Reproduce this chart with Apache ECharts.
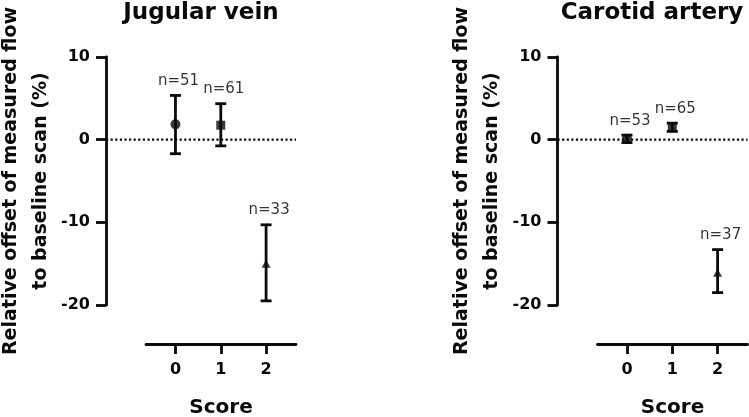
<!DOCTYPE html>
<html>
<head>
<meta charset="utf-8">
<script src="https://cdn.jsdelivr.net/npm/echarts@6/dist/echarts.min.js"></script>
<style>
html,body{margin:0;padding:0;background:#fff;}
#chart{width:749px;height:417px;}
</style>
</head>
<body>
<div id="chart"></div>
<script>
// ---- data ----
const scores = [0, 1, 2];
const scoreLabels = ['0', '1', '2'];
const yTicks = [-20, -10, 0, 10];
const markerShapes = ['circle', 'rect', 'triangle'];

const panelTitles = ['Jugular vein', 'Carotid artery'];

const jugularMean  = [1.85, 1.75, -15.0];
const jugularUpper = [5.35, 4.35, -10.3];
const jugularLower = [-1.7, -0.75, -19.5];
const jugularN     = [51, 61, 33];

const carotidMean  = [0.1, 1.5, -16.1];
const carotidUpper = [0.55, 2.0, -13.3];
const carotidLower = [-0.35, 1.0, -18.5];
const carotidN     = [53, 65, 37];

const referenceValue = 0;

// ---- chart ----
const FONT = 'DejaVu Sans';
const INK = '#0a0a0a';
const chart = echarts.init(document.getElementById('chart'), null, {renderer: 'canvas'});

const panels = [
  {title: panelTitles[0], mean: jugularMean, upper: jugularUpper, lower: jugularLower, n: jugularN,
   gridLeft: 146, yAxisX: 106, titleX: 201},
  {title: panelTitles[1], mean: carotidMean, upper: carotidUpper, lower: carotidLower, n: carotidN,
   gridLeft: 597.5, yAxisX: 557.5, titleX: 652}
];

const GRID_TOP = 57, GRID_H = 248, GRID_W = 150;
const X_MIN = -0.65, X_MAX = 2.66;
const Y_MIN = yTicks[0], Y_MAX = yTicks[yTicks.length - 1];

const option = {
  animation: false,
  backgroundColor: '#fff',
  title: [], grid: [], xAxis: [], yAxis: [], series: []
};

panels.forEach((p, i) => {
  option.title.push({
    text: p.title, left: p.titleX, top: 2, textAlign: 'center', padding: 0,
    textStyle: {fontFamily: FONT, fontWeight: 'bold', fontSize: 23, lineHeight: 22, color: INK}
  });
  // main grid
  const gMain = option.grid.length;
  option.grid.push({left: p.gridLeft, top: GRID_TOP, width: GRID_W, height: GRID_H,
    containLabel: false, outerBoundsMode: 'none'});
  // aux grid for the dotted reference line (spans from y axis to end of x axis)
  const gAux = option.grid.length;
  option.grid.push({left: p.yAxisX, top: GRID_TOP, width: p.gridLeft + GRID_W - p.yAxisX, height: GRID_H,
    containLabel: false, outerBoundsMode: 'none'});

  const xMain = option.xAxis.length;
  option.xAxis.push({
    gridIndex: gMain, type: 'value', min: X_MIN, max: X_MAX, position: 'bottom', offset: 39,
    name: 'Score', nameLocation: 'middle', nameGap: 54,
    nameTextStyle: {fontFamily: FONT, fontWeight: 'bold', fontSize: 20, lineHeight: 20, color: INK},
    axisLine: {show: true, onZero: false, lineStyle: {color: INK, width: 2.8}},
    axisTick: {show: true, length: 10, lineStyle: {color: INK, width: 2.8}, customValues: scores},
    axisLabel: {show: true, margin: 18, fontFamily: FONT, fontWeight: 'bold', fontSize: 16, color: INK,
      customValues: scores, formatter: v => scoreLabels[scores.indexOf(v)]},
    splitLine: {show: false}
  });
  const xAux = option.xAxis.length;
  option.xAxis.push({gridIndex: gAux, type: 'value', min: 0, max: 1, show: false});

  const yMain = option.yAxis.length;
  option.yAxis.push({
    gridIndex: gMain, type: 'value', min: Y_MIN, max: Y_MAX, interval: 10, position: 'left',
    offset: p.gridLeft - p.yAxisX,
    name: 'Relative offset of measured flow\nto baseline scan (%)', nameLocation: 'middle', nameGap: 50,
    nameTextStyle: {fontFamily: FONT, fontWeight: 'bold', fontSize: 19, lineHeight: 30, color: INK, align: 'center'},
    axisLine: {show: true, onZero: false, lineStyle: {color: INK, width: 2.8}},
    axisTick: {show: true, length: 10, lineStyle: {color: INK, width: 2.8}},
    axisLabel: {margin: 16, fontFamily: FONT, fontWeight: 'bold', fontSize: 16, color: INK},
    splitLine: {show: false}
  });
  const yAux = option.yAxis.length;
  option.yAxis.push({gridIndex: gAux, type: 'value', min: Y_MIN, max: Y_MAX, show: false});

  // dotted reference line at 0
  option.series.push({
    type: 'line', xAxisIndex: xAux, yAxisIndex: yAux, symbol: 'none', silent: true, z: 1,
    data: [[0, referenceValue], [1, referenceValue]],
    lineStyle: {color: INK, width: 2.2, type: [2.2, 2.4]}
  });

  // error bars
  option.series.push({
    type: 'custom', xAxisIndex: xMain, yAxisIndex: yMain, z: 3, clip: false,
    data: scores.map((s, k) => [s, p.lower[k], p.upper[k]]),
    renderItem: function (params, api) {
      const x = api.value(0);
      const top = api.coord([x, api.value(2)]);
      const bot = api.coord([x, api.value(1)]);
      const half = 5.5;
      const st = {stroke: INK, lineWidth: 2.8};
      return {
        type: 'group',
        children: [
          {type: 'line', shape: {x1: top[0], y1: top[1], x2: bot[0], y2: bot[1]}, style: st},
          {type: 'line', shape: {x1: top[0] - half, y1: top[1], x2: top[0] + half, y2: top[1]}, style: st},
          {type: 'line', shape: {x1: bot[0] - half, y1: bot[1], x2: bot[0] + half, y2: bot[1]}, style: st}
        ]
      };
    }
  });

  // mean markers
  option.series.push({
    type: 'scatter', xAxisIndex: xMain, yAxisIndex: yMain, z: 4,
    data: scores.map((s, k) => ({
      value: [s, p.mean[k]], symbol: markerShapes[k],
      symbolSize: markerShapes[k] === 'triangle' ? [9, 8] : (markerShapes[k] === 'rect' ? 9 : 10)
    })),
    itemStyle: {color: INK}
  });

  // n labels above the upper caps
  option.series.push({
    type: 'scatter', xAxisIndex: xMain, yAxisIndex: yMain, z: 5, symbolSize: 0, silent: true,
    data: scores.map((s, k) => ({value: [s, p.upper[k]], nVal: p.n[k]})),
    label: {
      show: true, position: 'top', distance: 7, offset: [3, 0],
      fontFamily: FONT, fontSize: 15, color: '#000',
      formatter: prm => 'n=' + prm.data.nVal
    }
  });
});

chart.setOption(option);
</script>
</body>
</html>
